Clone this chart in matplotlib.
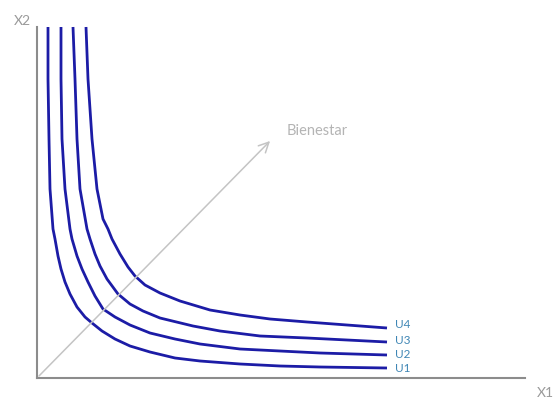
import matplotlib
matplotlib.use('Agg')
import matplotlib.pyplot as plt

# Indifference curves (x right from origin, y up from origin)
u1_x = [11, 11, 12, 13, 16, 18, 21, 24, 28, 33, 40, 48, 55, 65, 78, 93, 113, 138, 163, 203, 243, 283, 350]
u1_y = [351, 299, 239, 189, 149, 139, 122, 109, 96, 84, 71, 61, 55, 47, 39, 32, 26, 20, 17, 14, 12, 11, 10]
u2_x = [24, 24, 25, 28, 33, 35, 40, 45, 51, 58, 66, 78, 93, 113, 138, 163, 203, 243, 283, 350]
u2_y = [351, 299, 239, 189, 149, 139, 122, 109, 96, 82, 69, 61, 53, 45, 39, 34, 29, 27, 25, 23]
u3_x = [36, 38, 40, 43, 50, 53, 58, 63, 70, 81, 93, 106, 123, 156, 183, 223, 270, 350]
u3_y = [351, 299, 239, 189, 149, 139, 124, 112, 99, 84, 74, 67, 60, 52, 47, 42, 40, 36]
u4_x = [49, 51, 55, 60, 66, 71, 75, 83, 91, 98, 108, 123, 143, 173, 203, 233, 270, 350]
u4_y = [351, 299, 239, 189, 159, 149, 139, 124, 111, 102, 93, 85, 77, 68, 63, 59, 56, 50]
curves = [(u1_x, u1_y), (u2_x, u2_y), (u3_x, u3_y), (u4_x, u4_y)]
labels = ['U1', 'U2', 'U3', 'U4']
label_y = [10, 24, 38, 54]

x_axis_end = 488
y_axis_end = 351
arrow_end = (235, 239)

fig = plt.figure(figsize=(5.53, 4.02), dpi=100)
ax = fig.add_axes([0, 0, 1, 1])
ax.set_xlim(-37, 516)
ax.set_ylim(-23, 379)
ax.axis('off')

blue = '#1c1ca6'
for (xs, ys) in curves:
    ax.plot(xs, ys, color=blue, lw=2.0, solid_capstyle='butt',
            solid_joinstyle='round')

for lab, ly in zip(labels, label_y):
    ax.text(358, ly, lab, color='#3f86b5', fontsize=8.5, family='Lato',
            va='center', ha='left')

# axes
ax.plot([0, 0], [0, y_axis_end], color='#8c8c8c', lw=1.5)
ax.plot([0, x_axis_end], [0, 0], color='#8c8c8c', lw=1.5)
ax.text(-15, 358, 'X2', color='#9a9a9a', fontsize=10, family='Lato',
        ha='center', va='center')
ax.text(508, -14, 'X1', color='#9a9a9a', fontsize=10, family='Lato',
        ha='center', va='center')

# welfare arrow
ax.annotate('', xy=arrow_end, xytext=(0, 0),
            arrowprops=dict(arrowstyle='->', color='#c4c4c4', lw=1.1,
                            mutation_scale=18))
ax.text(250, 248, 'Bienestar', color='#b4b4b4', fontsize=10.5, family='Lato',
        ha='left', va='center')

fig.savefig('out.png', dpi=100)
